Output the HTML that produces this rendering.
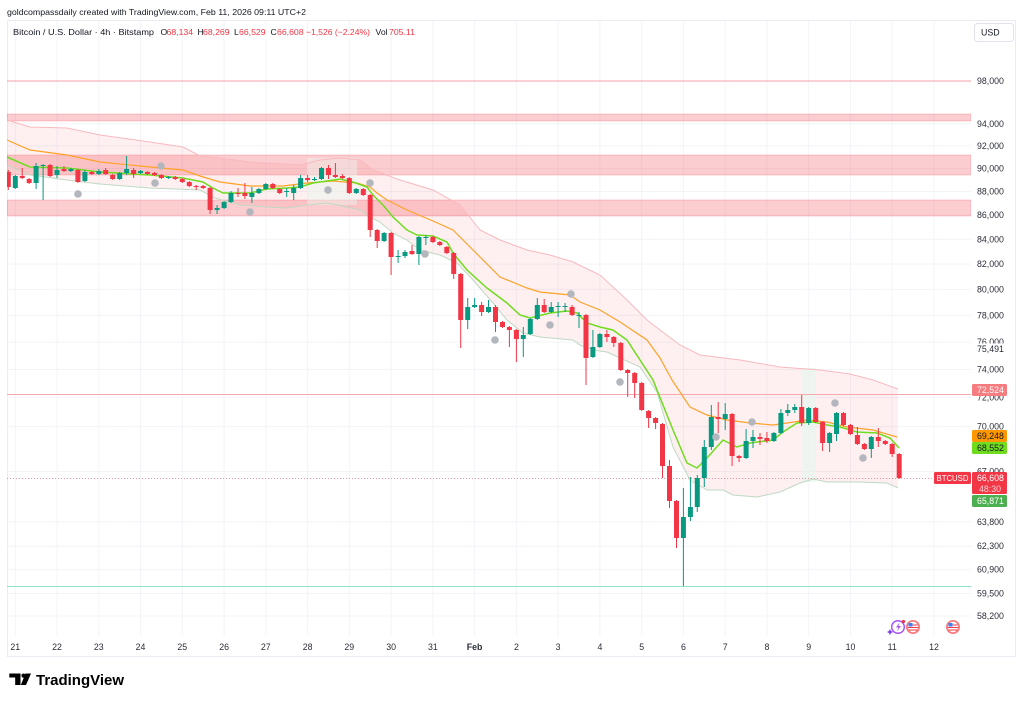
<!DOCTYPE html>
<html><head><meta charset="utf-8">
<style>
html,body{margin:0;padding:0;background:#fff;width:1024px;height:701px;overflow:hidden}
svg{display:block}
text{font-family:"Liberation Sans",Arial,sans-serif}
</style></head>
<body>
<svg width="1024" height="701" viewBox="0 0 1024 701" xmlns="http://www.w3.org/2000/svg">
<defs><clipPath id="pc"><rect x="7" y="20" width="964" height="616"/></clipPath></defs>
<rect width="1024" height="701" fill="#fff"/>

<!-- header -->
<text x="7" y="15" font-size="8.7" fill="#131722" textLength="299" lengthAdjust="spacingAndGlyphs">goldcompassdaily created with TradingView.com, Feb 11, 2026 09:11 UTC+2</text>

<!-- frame -->
<g stroke="#e9ecf2" stroke-width="1" fill="none">
<path d="M7 20.5H1015.5V656.5H7.5V20.5"/>
</g>

<!-- grid -->
<g stroke="#f2f4f8" stroke-width="1" clip-path="url(#pc)">
<path d="M7 81H971M7 123.8H971M7 145.9H971M7 168.5H971M7 191.5H971M7 215.1H971M7 239.3H971M7 264.1H971M7 289.4H971M7 315.4H971M7 342.1H971M7 369.5H971M7 397.6H971M7 426.6H971M7 471.5H971M7 521.8H971M7 546.2H971M7 569.6H971M7 593.5H971M7 616H971"/>
</g>
<g stroke="#f2f4f8" stroke-width="1">
<path d="M15.3 21V636M57 21V636M98.8 21V636M140.5 21V636M182.3 21V636M224.1 21V636M265.8 21V636M307.6 21V636M349.3 21V636M391.1 21V636M432.9 21V636M474.6 21V636M516.4 21V636M558.1 21V636M599.9 21V636M641.7 21V636M683.4 21V636M725.2 21V636M766.9 21V636M808.7 21V636M850.5 21V636M892.2 21V636M934 21V636"/>
</g>

<!-- legend line 2 -->
<g font-size="8.7">
<text x="13" y="35" fill="#131722" textLength="141" lengthAdjust="spacingAndGlyphs">Bitcoin / U.S. Dollar · 4h · Bitstamp</text>
<text x="160.5" y="35" fill="#131722">O</text><text x="166.5" y="35" fill="#f23645">68,134</text>
<text x="197.5" y="35" fill="#131722">H</text><text x="203" y="35" fill="#f23645">68,269</text>
<text x="234" y="35" fill="#131722">L</text><text x="239" y="35" fill="#f23645">66,529</text>
<text x="270.5" y="35" fill="#131722">C</text><text x="277" y="35" fill="#f23645">66,608</text>
<text x="306" y="35" fill="#f23645" textLength="64" lengthAdjust="spacingAndGlyphs">−1,526 (−2.24%)</text>
<text x="375.5" y="35" fill="#131722">Vol</text><text x="389" y="35" fill="#f23645">705.11</text>
</g>

<g clip-path="url(#pc)">
<!-- Bollinger fill -->
<polygon fill="rgba(242,54,69,0.075)" points="7,120 30,127 67,128 100,135 150,142 183,147 200,156 220,158 250,162 300,165 320,160 340,158 360,160 373,170 400,180 433,190 460,205 480,230 500,240 527,250 550,255 573,262 600,275 627,300 647,320 660,330 680,345 700,355 740,360 780,367 820,370 850,374 873,380 898,389 898,488 887,483 857,482 827,482 813,479 800,483 780,492 757,497 733,495 723,490 707,490 690,480 673,447 657,392 640,367 620,358 607,352 593,350 580,345 573,340 540,337 523,333 507,320 493,303 473,280 457,263 440,255 420,250 407,240 393,233 380,222 370,217 360,210 347,207 327,203 307,205 287,208 267,207 240,205 215,198 200,190 150,188 100,184 67,180 30,175 7,165"/>

<!-- zones -->
<g fill="rgba(242,54,69,0.25)" stroke="rgba(242,54,69,0.22)" stroke-width="1">
<rect x="7" y="114" width="964" height="7"/>
<rect x="7" y="155" width="964" height="20"/>
<rect x="7" y="200" width="964" height="16"/>
</g>

<!-- highlights -->
<rect x="307" y="158" width="50" height="47" fill="rgba(236,246,240,0.45)"/>
<rect x="802" y="368" width="14" height="114" fill="rgba(232,246,238,0.75)"/>

<!-- horizontal lines -->
<path d="M7 81H971" stroke="#f5a0a8" stroke-width="1"/>
<path d="M7 394.5H971" stroke="#f7a8ae" stroke-width="1"/>
<path d="M7 586.5H971" stroke="#8fe3c6" stroke-width="1"/>
<path d="M7 478.5H934" stroke="#f23645" stroke-opacity="0.55" stroke-width="1" stroke-dasharray="1 2"/>

<!-- bands -->
<polyline fill="none" stroke="#f8b9be" stroke-width="1" points="7,120 30,127 67,128 100,135 150,142 183,147 200,156 220,158 250,162 300,165 320,160 340,158 360,160 373,170 400,180 433,190 460,205 480,230 500,240 527,250 550,255 573,262 600,275 627,300 647,320 660,330 680,345 700,355 740,360 780,367 820,370 850,374 873,380 898,389"/>
<polyline fill="none" stroke="#bfd9c3" stroke-width="1" points="7,165 30,175 67,180 100,184 150,188 200,190 215,198 240,205 267,207 287,208 307,205 327,203 347,207 360,210 370,217 380,222 393,233 407,240 420,250 440,255 457,263 473,280 493,303 507,320 523,333 540,337 573,340 580,345 593,350 607,352 620,358 640,367 657,392 673,447 690,480 707,490 723,490 733,495 757,497 780,492 800,483 813,479 827,482 857,482 887,483 898,488"/>

<!-- orange -->
<polyline fill="none" stroke="#ffa228" stroke-width="1.2" points="7,140 30,150 67,155 100,162 150,167 183,170 200,176 220,182 250,186 283,186 307,183 333,181 357,183 370,187 377,193 387,200 407,210 433,221 453,230 473,250 500,277 527,288 540,292 570,295 580,302 600,310 620,322 647,340 660,358 672,380 690,407 707,415 727,420 750,423 773,425 787,423 807,420 827,422 847,427 873,430 897,437"/>
<!-- green -->
<polyline fill="none" stroke="#6fdc1e" stroke-width="1.5" points="7,157 30,167 67,168 100,172 150,175 183,178 203,182 213,188 223,193 250,193 267,189 287,188 300,187 313,183 327,181 340,179 353,182 367,187 373,195 383,205 393,217 407,230 417,235 433,236 447,242 453,253 467,270 487,288 507,303 520,315 530,318 550,313 567,311 577,313 587,323 600,327 613,330 627,340 640,360 653,380 673,430 687,463 697,468 707,458 723,440 737,447 750,443 773,440 783,432 797,423 813,422 827,425 840,427 857,432 877,433 890,438 899,448"/>

<!-- green candles -->
<path stroke="#089981" stroke-width="1" fill="none" d="M15.3 175V189M36.1 163V189M43.1 164V200M57 166V178M70.9 168V172M84.9 170V182M98.8 169V175M119.7 172V180M126.6 156V175M140.5 170V174M168.4 176V179M217.1 205V214M224.1 201V209M231 191V203M251.9 187V203M258.9 188V194M265.8 183V190M286.7 188V197M293.7 185V200M300.6 175V189M314.5 177V181M321.5 167V180M356.3 188V194M384.1 232V242M398.1 250V263M405 250V258M418.9 236V265M425.9 235V245M467.7 298V329M474.6 298V308M488.5 300V313M523.3 327V357M530.3 318V335M537.3 298V320M551.2 302V313M558.1 302V317M565.1 303V312M579 312V328M592.9 330V358M599.9 333V348M683.4 488V586M690.4 477V521M697.3 475V512M704.3 440V487M711.3 405V450M725.2 403V430M746.1 429V459M753 430V448M773.9 432V442M780.9 409V434M787.8 404V416M794.8 404V413M808.7 407V425M829.6 432V452M836.5 412V441M871.3 436V458"/>
<path fill="#089981" d="M12.8 176h5v12h-5zM33.6 166h5v17h-5zM40.6 165h5v1h-5zM54.5 170h5v5h-5zM68.4 169h5v2h-5zM82.4 172h5v9h-5zM96.3 171h5v3h-5zM117.2 173h5v6h-5zM124.1 169h5v4h-5zM138 171h5v2h-5zM165.9 177h5v1h-5zM214.6 208h5v2h-5zM221.6 202h5v6h-5zM228.5 193h5v9h-5zM249.4 193h5v4h-5zM256.4 189h5v4h-5zM263.3 184h5v5h-5zM284.2 191h5v1h-5zM291.2 188h5v5h-5zM298.1 178h5v10h-5zM312 179h5v1h-5zM319 168h5v11h-5zM353.8 189h5v4h-5zM381.6 233h5v8h-5zM395.6 256h5v1h-5zM402.5 252h5v4h-5zM416.4 237h5v17h-5zM423.4 237h5v1h-5zM465.2 307h5v13h-5zM472.1 305h5v2h-5zM486 307h5v5h-5zM520.8 335h5v4h-5zM527.8 319h5v15h-5zM534.8 305h5v14h-5zM548.7 307h5v5h-5zM555.6 306h5v1h-5zM562.6 306h5v1h-5zM576.5 315h5v1h-5zM590.4 347h5v10h-5zM597.4 334h5v13h-5zM680.9 517h5v21h-5zM687.9 507h5v10h-5zM694.8 478h5v29h-5zM701.8 447h5v31h-5zM708.8 417h5v30h-5zM722.7 414h5v5h-5zM743.6 441h5v17h-5zM750.5 437h5v4h-5zM771.4 433h5v8h-5zM778.4 413h5v20h-5zM785.3 410h5v3h-5zM792.3 407h5v3h-5zM806.2 408h5v15h-5zM827.1 433h5v10h-5zM834 413h5v21h-5zM868.8 437h5v12h-5z"/>

<!-- red candles -->
<path stroke="#f23645" stroke-width="1" fill="none" d="M8.3 170V190M22.2 168V179M29.2 178V184M50.1 164V177M64 166V172M77.9 169V183M91.8 171V175M105.7 168V175M112.7 174V180M133.6 168V178M147.5 171V175M154.5 172V176M161.4 174V179M175.3 176V180M182.3 178V183M189.3 181V187M196.2 185V190M203.2 185V189M210.1 187V214M238 188V197M244.9 183V199M272.8 183V189M279.7 188V194M307.6 175V182M328.5 165V179M335.4 163V178M342.4 174V179M349.3 177V194M363.3 188V196M370.2 194V237M377.2 229V248M391.1 232V275M412 245V255M432.9 236V243M439.8 241V246M446.8 246V254M453.7 252V279M460.7 273V348M481.6 302V316M495.5 305V332M502.5 321V328M509.4 326V347M516.4 329V362M544.2 299V313M572.1 305V316M586 314V385M606.9 330V342M613.8 336V347M620.8 342V371M627.7 369V397M634.7 372V398M641.7 382V411M648.6 410V428M655.6 417V429M662.5 423V478M669.5 460V508M676.5 500V548M718.2 402V433M732.1 413V466M739.1 455V462M760 433V445M766.9 432V443M801.7 395V426M815.7 407V423M822.6 421V451M843.5 412V426M850.5 424V435M857.4 427V445M864.4 443V450M878.3 428V447M885.3 440V445M892.2 443V457M899.2 453V479"/>
<path fill="#f23645" d="M5.8 172h5v15h-5zM19.7 176h5v2h-5zM26.7 179h5v4h-5zM47.6 165h5v11h-5zM61.5 169h5v2h-5zM75.4 170h5v12h-5zM89.3 172h5v2h-5zM103.2 170h5v4h-5zM110.2 175h5v4h-5zM131.1 170h5v4h-5zM145 172h5v2h-5zM152 173h5v2h-5zM158.9 175h5v3h-5zM172.8 177h5v2h-5zM179.8 179h5v3h-5zM186.8 182h5v4h-5zM193.7 186h5v1h-5zM200.7 186h5v2h-5zM207.6 188h5v22h-5zM235.5 193h5v1h-5zM242.4 193h5v3h-5zM270.3 184h5v4h-5zM277.2 189h5v4h-5zM305.1 178h5v2h-5zM326 168h5v7h-5zM332.9 175h5v2h-5zM339.9 176h5v2h-5zM346.8 178h5v15h-5zM360.8 189h5v6h-5zM367.7 195h5v35h-5zM374.7 230h5v11h-5zM388.6 233h5v24h-5zM409.5 251h5v3h-5zM430.4 237h5v5h-5zM437.3 242h5v3h-5zM444.3 247h5v6h-5zM451.2 253h5v21h-5zM458.2 274h5v46h-5zM479.1 305h5v7h-5zM493 307h5v15h-5zM500 322h5v5h-5zM506.9 327h5v3h-5zM513.9 330h5v9h-5zM541.7 305h5v7h-5zM569.6 307h5v8h-5zM583.5 315h5v43h-5zM604.4 334h5v3h-5zM611.3 337h5v6h-5zM618.3 343h5v27h-5zM625.2 370h5v3h-5zM632.2 373h5v10h-5zM639.2 383h5v27h-5zM646.1 411h5v7h-5zM653.1 418h5v5h-5zM660 424h5v42h-5zM667 466h5v35h-5zM674 501h5v37h-5zM715.7 417h5v2h-5zM729.6 414h5v42h-5zM736.6 456h5v2h-5zM757.5 437h5v2h-5zM764.4 438h5v3h-5zM799.2 407h5v16h-5zM813.2 408h5v14h-5zM820.1 422h5v21h-5zM841 413h5v12h-5zM848 425h5v9h-5zM854.9 435h5v9h-5zM861.9 444h5v5h-5zM875.8 437h5v4h-5zM882.8 441h5v3h-5zM889.7 444h5v10h-5zM896.7 454h5v24h-5z"/>

<!-- gray dots -->
<g fill="#b4b6be">
<circle cx="78" cy="194" r="3.8"/><circle cx="155" cy="183" r="3.8"/><circle cx="161" cy="166" r="3.8"/><circle cx="250" cy="212" r="3.8"/><circle cx="328" cy="190" r="3.8"/><circle cx="370" cy="183" r="3.8"/><circle cx="425" cy="254" r="3.8"/><circle cx="495" cy="340" r="3.8"/><circle cx="550" cy="325" r="3.8"/><circle cx="571" cy="294" r="3.8"/><circle cx="620" cy="382" r="3.8"/><circle cx="716" cy="437" r="3.8"/><circle cx="752" cy="422" r="3.8"/><circle cx="835" cy="403" r="3.8"/><circle cx="863" cy="458" r="3.8"/>
</g>

<!-- event icons -->
<circle cx="898" cy="627" r="6.3" fill="#fff" stroke="#a855f7" stroke-width="1.5"/>
<path d="M899.5 622.5L896 627.5H898.5L897 631.5L901 626H898.5Z" fill="#a855f7"/>
<path d="M890 629l1 2 2 1-2 1-1 2-1-2-2-1 2-1z" fill="#7c3aed"/>
<circle cx="903.5" cy="621.5" r="1.6" fill="#f23645"/>
<g>
<circle cx="913" cy="627" r="7" fill="#f77c80"/>
<circle cx="913" cy="627" r="5.2" fill="#fff"/>
<path d="M908.5 625H917.5M908 627.5H918M908.5 630H917.5" stroke="#f23645" stroke-width="1.1"/>
<rect x="908.5" y="623" width="4" height="3.5" fill="#3b82f6"/>
</g>
<g>
<circle cx="953" cy="627" r="7" fill="#f77c80"/>
<circle cx="953" cy="627" r="5.2" fill="#fff"/>
<path d="M948.5 625H957.5M948 627.5H958M948.5 630H957.5" stroke="#f23645" stroke-width="1.1"/>
<rect x="948.5" y="623" width="4" height="3.5" fill="#3b82f6"/>
</g>
</g>

<!-- BTCUSD tag -->
<rect x="934" y="472" width="37" height="12" rx="1.5" fill="#f23645"/>
<text x="936.5" y="481" font-size="8.2" fill="#fff" textLength="32" lengthAdjust="spacingAndGlyphs">BTCUSD</text>

<!-- price axis -->
<rect x="974.5" y="23.5" width="39" height="18" rx="3" fill="#fff" stroke="#e0e3eb"/>
<text x="981" y="35.5" font-size="8.8" fill="#131722">USD</text>
<g font-size="8.8" fill="#2a2e39">
<text x="977" y="84">98,000</text>
<text x="977" y="126.8">94,000</text>
<text x="977" y="148.9">92,000</text>
<text x="977" y="171.5">90,000</text>
<text x="977" y="194.5">88,000</text>
<text x="977" y="218.1">86,000</text>
<text x="977" y="242.3">84,000</text>
<text x="977" y="267.1">82,000</text>
<text x="977" y="292.4">80,000</text>
<text x="977" y="318.4">78,000</text>
<text x="977" y="345.1">76,000</text>
<text x="977" y="372.5">74,000</text>
<text x="977" y="400.6">72,000</text>
<text x="977" y="429.6">70,000</text>
<text x="977" y="474.5">67,000</text>
<text x="977" y="524.8">63,800</text>
<text x="977" y="549.2">62,300</text>
<text x="977" y="572.6">60,900</text>
<text x="977" y="596.5">59,500</text>
<text x="977" y="619">58,200</text>
</g>
<rect x="972" y="343.5" width="42" height="11" fill="#fff"/>
<text x="977" y="352" font-size="8.8" fill="#2a2e39">75,491</text>

<rect x="972" y="384" width="35" height="12" rx="1.5" fill="#f77c80"/>
<text x="977" y="393.2" font-size="8.8" fill="#fff">72,524</text>
<rect x="972" y="430" width="35" height="12" rx="1.5" fill="#ff9800"/>
<text x="977" y="439.2" font-size="8.8" fill="#131722">69,248</text>
<rect x="972" y="442" width="35" height="12" rx="1.5" fill="#6fdc1e"/>
<text x="977" y="451.2" font-size="8.8" fill="#131722">68,552</text>
<rect x="972" y="472" width="35" height="22" rx="1.5" fill="#f23645"/>
<text x="977" y="481.2" font-size="8.8" fill="#fff">66,608</text>
<text x="979" y="492" font-size="8.8" fill="#ffd0d4">48:30</text>
<rect x="972" y="495" width="35" height="12" rx="1.5" fill="#4caf50"/>
<text x="977" y="504.2" font-size="8.8" fill="#fff">65,871</text>

<!-- time axis -->
<g font-size="8.8" fill="#2a2e39" text-anchor="middle">
<text x="15.3" y="650">21</text><text x="57" y="650">22</text><text x="98.8" y="650">23</text><text x="140.5" y="650">24</text><text x="182.3" y="650">25</text><text x="224.1" y="650">26</text><text x="265.8" y="650">27</text><text x="307.6" y="650">28</text><text x="349.3" y="650">29</text><text x="391.1" y="650">30</text><text x="432.9" y="650">31</text><text x="474.6" y="650" font-weight="bold">Feb</text><text x="516.4" y="650">2</text><text x="558.1" y="650">3</text><text x="599.9" y="650">4</text><text x="641.7" y="650">5</text><text x="683.4" y="650">6</text><text x="725.2" y="650">7</text><text x="766.9" y="650">8</text><text x="808.7" y="650">9</text><text x="850.5" y="650">10</text><text x="892.2" y="650">11</text><text x="934" y="650">12</text>
</g>

<!-- TradingView logo -->
<g fill="#000">
<rect x="9.3" y="673.5" width="11" height="4"/>
<rect x="15.2" y="673.5" width="5.3" height="11.5"/>
<circle cx="23.5" cy="675.6" r="2.1"/>
<polygon points="25.5,673.5 31,673.5 26,685 20.8,685"/>
</g>
<text x="36" y="685" font-size="15" font-weight="bold" fill="#000" textLength="88" lengthAdjust="spacingAndGlyphs">TradingView</text>
</svg>
</body></html>
